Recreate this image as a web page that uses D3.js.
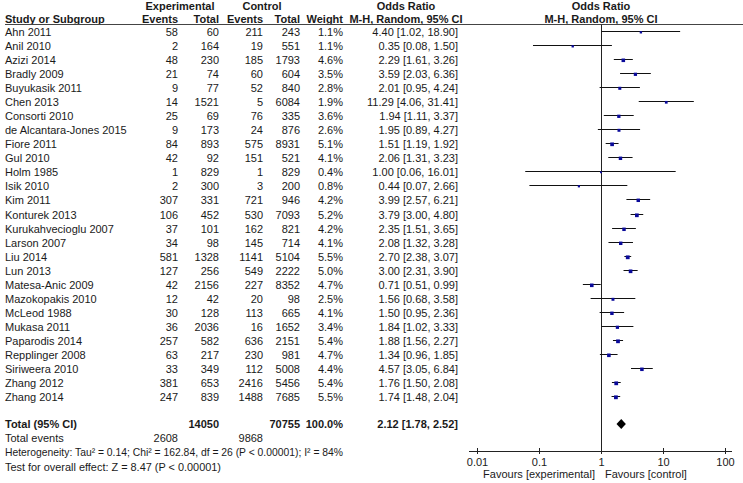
<!DOCTYPE html>
<html><head><meta charset="utf-8">
<script src="https://cdn.jsdelivr.net/npm/d3@7/dist/d3.min.js"></script>
<style>
body{margin:0;background:#fff;}
svg text{font-family:"Liberation Sans",Arial,sans-serif;font-size:11px;fill:#1a1a1a;}
</style></head><body>
<svg id="c" width="743" height="483"></svg>
<script>
const studies = ["Ahn 2011","Anil 2010","Azizi 2014","Bradly 2009","Buyukasik 2011","Chen 2013","Consorti 2010","de Alcantara-Jones 2015","Fiore 2011","Gul 2010","Holm 1985","Isik 2010","Kim 2011","Konturek 2013","Kurukahvecioglu 2007","Larson 2007","Liu 2014","Lun 2013","Matesa-Anic 2009","Mazokopakis 2010","McLeod 1988","Mukasa 2011","Paparodis 2014","Repplinger 2008","Siriweera 2010","Zhang 2012","Zhang 2014"];
const expEvents = [58,2,48,21,9,14,25,9,84,42,1,2,307,106,37,34,581,127,42,12,30,36,257,63,33,381,247];
const expTotal = [60,164,230,74,77,1521,69,173,893,92,829,300,331,452,101,98,1328,256,2156,42,128,2036,582,217,349,653,839];
const ctlEvents = [211,19,185,60,52,5,76,24,575,151,1,3,721,530,162,145,1141,549,227,20,113,16,636,230,112,2416,1488];
const ctlTotal = [243,551,1793,604,840,6084,335,876,8931,521,829,200,946,7093,821,714,5104,2222,8352,98,665,1652,2151,981,5008,5456,7685];
const weights = [1.1,1.1,4.6,3.5,2.8,1.9,3.6,2.6,5.1,4.1,0.4,0.8,4.2,5.2,4.2,4.1,5.5,5.0,4.7,2.5,4.1,3.4,5.4,4.7,4.4,5.4,5.5];
const orVal = [4.40,0.35,2.29,3.59,2.01,11.29,1.94,1.95,1.51,2.06,1.00,0.44,3.99,3.79,2.35,2.08,2.70,3.00,0.71,1.56,1.50,1.84,1.88,1.34,4.57,1.76,1.74];
const orLo = [1.02,0.08,1.61,2.03,0.95,4.06,1.11,0.89,1.19,1.31,0.06,0.07,2.57,3.00,1.51,1.32,2.38,2.31,0.51,0.68,0.95,1.02,1.56,0.96,3.05,1.50,1.48];
const orHi = [18.90,1.50,3.26,6.36,4.24,31.41,3.37,4.27,1.92,3.23,16.01,2.66,6.21,4.80,3.65,3.28,3.07,3.90,0.99,3.58,2.36,3.33,2.27,1.85,6.84,2.08,2.04];
const total = {label:"Total (95% CI)", expTotal:14050, ctlTotal:70755, weight:"100.0%", or:2.12, lo:1.78, hi:2.52};
const totalEvents = {exp:2608, ctl:9868};
const hetText = "Heterogeneity: Tau\u00b2 = 0.14; Chi\u00b2 = 162.84, df = 26 (P < 0.00001); I\u00b2 = 84%";
const testText = "Test for overall effect: Z = 8.47 (P < 0.00001)";
const axisTicks = [0.01,0.1,1,10,100];
const axisLabels = ["0.01","0.1","1","10","100"];

const svg = d3.select("#c");
const x = d3.scaleLog().domain([0.01,100]).range([477,725]);
const y = d3.scalePoint().domain(studies).range([31,396]);
const fmt2 = d3.format(".2f");
const orStr = (o,l,h)=>`${fmt2(o)} [${fmt2(l)}, ${fmt2(h)}]`;
const col = {study:5, expE:178, expT:219, ctlE:263, ctlT:300, w:343, or:458};
const tdy = 5;

// header
const hdr = svg.append("g");
function ht(t,xx,yy,anchor){hdr.append("text").attr("x",xx).attr("y",yy).attr("text-anchor",anchor).style("font-weight","bold").text(t);}
ht("Experimental",180,10,"middle");
ht("Control",262,10,"middle");
ht("Odds Ratio",406,10,"middle");
ht("Odds Ratio",x(1),10,"middle");
ht("Study or Subgroup",col.study,23,"start");
ht("Events",col.expE,23,"end");
ht("Total",col.expT,23,"end");
ht("Events",col.ctlE,23,"end");
ht("Total",col.ctlT,23,"end");
ht("Weight",col.w,23,"end");
ht("M-H, Random, 95% CI",406,23,"middle");
ht("M-H, Random, 95% CI",x(1),23,"middle");
svg.append("line").attr("x1",5).attr("x2",743).attr("y1",24.5).attr("y2",24.5).attr("stroke","#444").attr("stroke-width",1);

// rows
const rows = svg.append("g");
studies.forEach((s,i)=>{
  const yy = y(s)+tdy;
  const g = rows.append("g");
  g.append("text").attr("x",col.study).attr("y",yy).text(s);
  g.append("text").attr("x",col.expE).attr("y",yy).attr("text-anchor","end").text(expEvents[i]);
  g.append("text").attr("x",col.expT).attr("y",yy).attr("text-anchor","end").text(expTotal[i]);
  g.append("text").attr("x",col.ctlE).attr("y",yy).attr("text-anchor","end").text(ctlEvents[i]);
  g.append("text").attr("x",col.ctlT).attr("y",yy).attr("text-anchor","end").text(ctlTotal[i]);
  g.append("text").attr("x",col.w).attr("y",yy).attr("text-anchor","end").text(d3.format(".1f")(weights[i])+"%");
  g.append("text").attr("x",col.or).attr("y",yy).attr("text-anchor","end").text(orStr(orVal[i],orLo[i],orHi[i]));
});

// total rows
const yTot = 424, yEv = 438, yHet = 452, yTest = 467;
function bt(t,xx,yy,anchor){svg.append("text").attr("x",xx).attr("y",yy+4).attr("text-anchor",anchor).style("font-weight","bold").text(t);}
bt(total.label,col.study,yTot,"start");
bt(total.expTotal,col.expT,yTot,"end");
bt(total.ctlTotal,col.ctlT,yTot,"end");
bt(total.weight,col.w,yTot,"end");
bt(orStr(total.or,total.lo,total.hi),col.or,yTot,"end");
svg.append("text").attr("x",col.study).attr("y",yEv+4).text("Total events");
svg.append("text").attr("x",col.expE).attr("y",yEv+4).attr("text-anchor","end").text(totalEvents.exp);
svg.append("text").attr("x",col.ctlE).attr("y",yEv+4).attr("text-anchor","end").text(totalEvents.ctl);
svg.append("text").attr("x",col.study).attr("y",yHet+4).attr("textLength",col.w-col.study).attr("lengthAdjust","spacingAndGlyphs").text(hetText);
svg.append("text").attr("x",col.study).attr("y",yTest+4).attr("textLength",216).attr("lengthAdjust","spacingAndGlyphs").text(testText);

// forest plot
const axisY = 451;
svg.append("line").attr("x1",x(1)+0.5).attr("x2",x(1)+0.5).attr("y1",24.5).attr("y2",axisY).attr("stroke","#222").attr("stroke-width",1);
const fp = svg.append("g");
studies.forEach((s,i)=>{
  const yy = Math.round(y(s))+0.5;
  fp.append("line").attr("x1",x(orLo[i])).attr("x2",x(orHi[i])).attr("y1",yy).attr("y2",yy).attr("stroke","#111").attr("stroke-width",1);
  const sz = 1.2+Math.sqrt(weights[i])*1.1;
  fp.append("rect").attr("x",x(orVal[i])-sz/2).attr("y",yy-sz/2+0.8).attr("width",sz).attr("height",sz).attr("fill","#0a0a9a");
});
// diamond
const dh = 5;
fp.append("path").attr("d",`M${x(total.lo)},${yTot} L${x(total.or)},${yTot-dh} L${x(total.hi)},${yTot} L${x(total.or)},${yTot+dh} Z`).attr("fill","#000");

// axis
const ax = svg.append("g").attr("transform",`translate(0,${axisY})`)
  .call(d3.axisBottom(x).tickValues(axisTicks).tickFormat((d,i)=>axisLabels[i]).tickSize(3).tickPadding(4));
ax.select(".domain").remove();
ax.selectAll(".tick line").attr("y1",-3).attr("y2",3).attr("stroke","#222");
ax.selectAll(".tick text").style("font-size","11px").style("font-family","Liberation Sans, Arial, sans-serif").attr("fill","#1a1a1a");
ax.append("line").attr("x1",x.range()[0]-8).attr("x2",x.range()[1]+7).attr("y1",0.5).attr("y2",0.5).attr("stroke","#222");
svg.append("text").attr("x",x(1)-6).attr("y",474+4).attr("text-anchor","end").text("Favours [experimental]");
svg.append("text").attr("x",x(1)+4).attr("y",474+4).attr("text-anchor","start").text("Favours [control]");
</script></body></html>
